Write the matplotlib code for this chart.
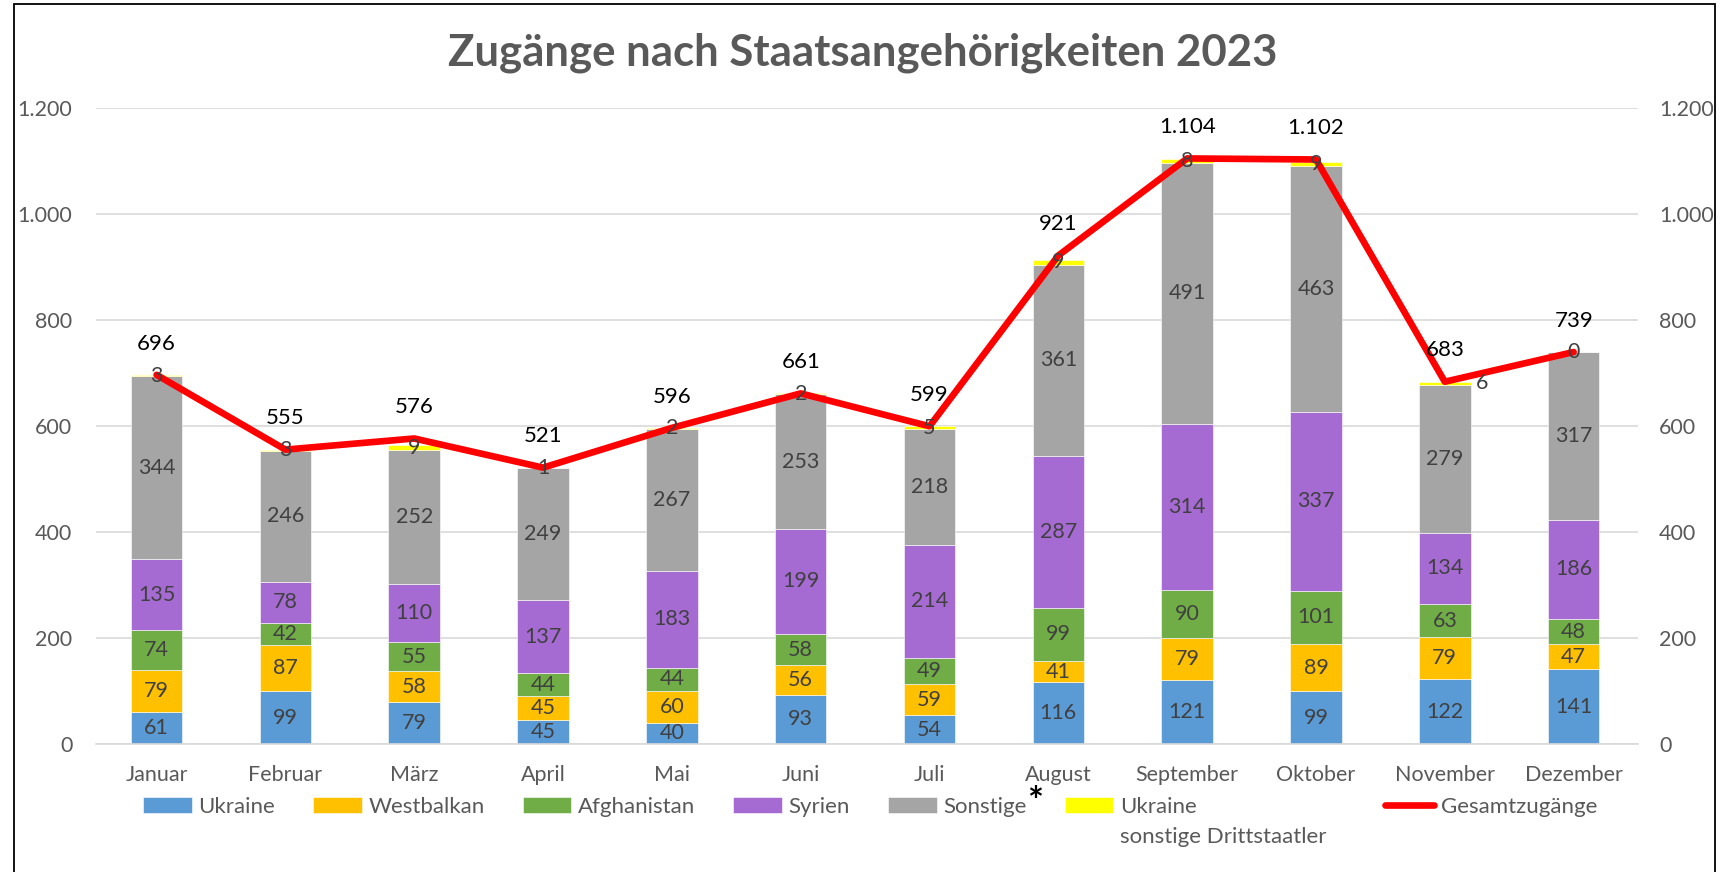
import numpy as np
import matplotlib.pyplot as plt
from matplotlib.patches import Rectangle
from matplotlib.ticker import FuncFormatter

# Data
months = ['Januar', 'Februar', 'März', 'April', 'Mai', 'Juni', 'Juli',
          'August', 'September', 'Oktober', 'November', 'Dezember']
ukraine = [61, 99, 79, 45, 40, 93, 54, 116, 121, 99, 122, 141]
westbalkan = [79, 87, 58, 45, 60, 56, 59, 41, 79, 89, 79, 47]
afghanistan = [74, 42, 55, 44, 44, 58, 49, 99, 90, 101, 63, 48]
syrien = [135, 78, 110, 137, 183, 199, 214, 287, 314, 337, 134, 186]
sonstige = [344, 246, 252, 249, 267, 253, 218, 361, 491, 463, 279, 317]
ukr_dritt = [3, 3, 9, 1, 2, 2, 5, 9, 8, 9, 6, 0]
gesamt = [696, 555, 576, 521, 596, 661, 599, 921, 1104, 1102, 683, 739]

series = [ukraine, westbalkan, afghanistan, syrien, sonstige, ukr_dritt]
names = ['Ukraine', 'Westbalkan', 'Afghanistan', 'Syrien', 'Sonstige', 'Ukraine']
colors = ['#5B9BD5', '#FFC000', '#70AD47', '#A66BD3', '#A5A5A5', '#FFFF00']

plt.rcParams['font.family'] = ['Lato', 'DejaVu Sans']
grey = '#595959'
fs = 15.5


def de_fmt(v, pos=None):
    return f'{int(v):,}'.replace(',', '.')


fig = plt.figure(figsize=(17.21, 8.72), dpi=100)
ax = fig.add_axes([0.0558, 0.1468, 0.896, 0.7299])

x = np.arange(len(months))
bottom = np.zeros(len(months))
bars = []
for vals, name, col in zip(series, names, colors):
    b = ax.bar(x, vals, 0.4, bottom=bottom, color=col, label=name,
               edgecolor='white', linewidth=0.4, zorder=2)
    bars.append(b)
    bottom += np.array(vals)

# segment labels
for b, vals in zip(bars[:5], series[:5]):
    ax.bar_label(b, labels=[str(v) for v in vals], label_type='center',
                 color='#404040', fontsize=fs, zorder=5)

line, = ax.plot(x, gesamt, color='#FF0000', linewidth=4.8,
                label='Gesamtzugänge', zorder=4, solid_capstyle='round')

# labels for the thin yellow segment (drawn on top of the line)
top = bottom - np.array(ukr_dritt)
for i, v in enumerate(ukr_dritt):
    dx = 0.29 if i == 10 else 0
    ax.text(x[i] + dx, top[i] + v / 2, str(v), ha='center', va='center',
            color='#404040', fontsize=fs, zorder=6)

for i, v in enumerate(gesamt):
    ax.annotate(de_fmt(v), (x[i], v), xytext=(0, 22.5),
                textcoords='offset points', ha='center', va='center',
                color='black', fontsize=16, zorder=6)

ax.set_xlim(-0.47, 11.5)
ax.set_ylim(0, 1200)
ax.set_yticks(range(0, 1201, 200))
ax.yaxis.set_major_formatter(FuncFormatter(de_fmt))
ax.set_xticks(x)
ax.set_xticklabels(months)
ax.tick_params(length=0, labelsize=fs, labelcolor=grey)
ax.tick_params(axis='x', pad=15)
ax.tick_params(axis='y', pad=17)
ax.grid(axis='y', color='#D9D9D9', linewidth=1.2, zorder=0)
ax.set_axisbelow(True)
for s in ['top', 'right', 'left']:
    ax.spines[s].set_visible(False)
ax.spines['bottom'].set_color('#D9D9D9')
ax.spines['bottom'].set_linewidth(1.2)

sec = ax.secondary_yaxis('right')
sec.set_yticks(range(0, 1201, 200))
sec.yaxis.set_major_formatter(FuncFormatter(de_fmt))
sec.tick_params(length=0, labelsize=fs, labelcolor=grey, pad=15)
sec.spines['right'].set_visible(False)

fig.text(0.5015, 0.939, 'Zugänge nach Staatsangehörigkeiten 2023',
         ha='center', va='center', fontsize=31.5, fontweight='bold',
         color=grey)

# legend: bar series
leg = fig.legend(bars, names, loc='upper left', ncol=6, frameon=False,
                 bbox_to_anchor=(0.083, 0.086), fontsize=16, labelcolor=grey,
                 handlelength=2.2, handleheight=0.7, handletextpad=0.3,
                 columnspacing=1.7, borderpad=0, borderaxespad=0)
texts = leg.get_texts()
star = plt.Annotation('*', xy=(1, 1), xycoords=texts[4],
                      xytext=(0, 8), textcoords='offset points',
                      ha='left', va='top', fontsize=27,
                      fontweight='bold', color='black', zorder=7)
second = plt.Annotation('sonstige Drittstaatler', xy=(0, 0),
                        xycoords=texts[5], xytext=(0, -7),
                        textcoords='offset points', ha='left',
                        va='top', fontsize=16, color=grey, zorder=7)
fig.add_artist(star)
fig.add_artist(second)

# legend: total line
fig.legend([line], ['Gesamtzugänge'], loc='upper left', frameon=False,
           bbox_to_anchor=(0.805, 0.086), fontsize=16, labelcolor=grey,
           handlelength=2.2, handletextpad=0.3, borderpad=0,
           borderaxespad=0)

fig.patches.append(Rectangle((14 / 1721, -0.01), 1701 / 1721, 1 - 4 / 872 + 0.01,
                             transform=fig.transFigure, fill=False,
                             edgecolor='black', linewidth=1.3))

plt.savefig('out.png', dpi=100)
